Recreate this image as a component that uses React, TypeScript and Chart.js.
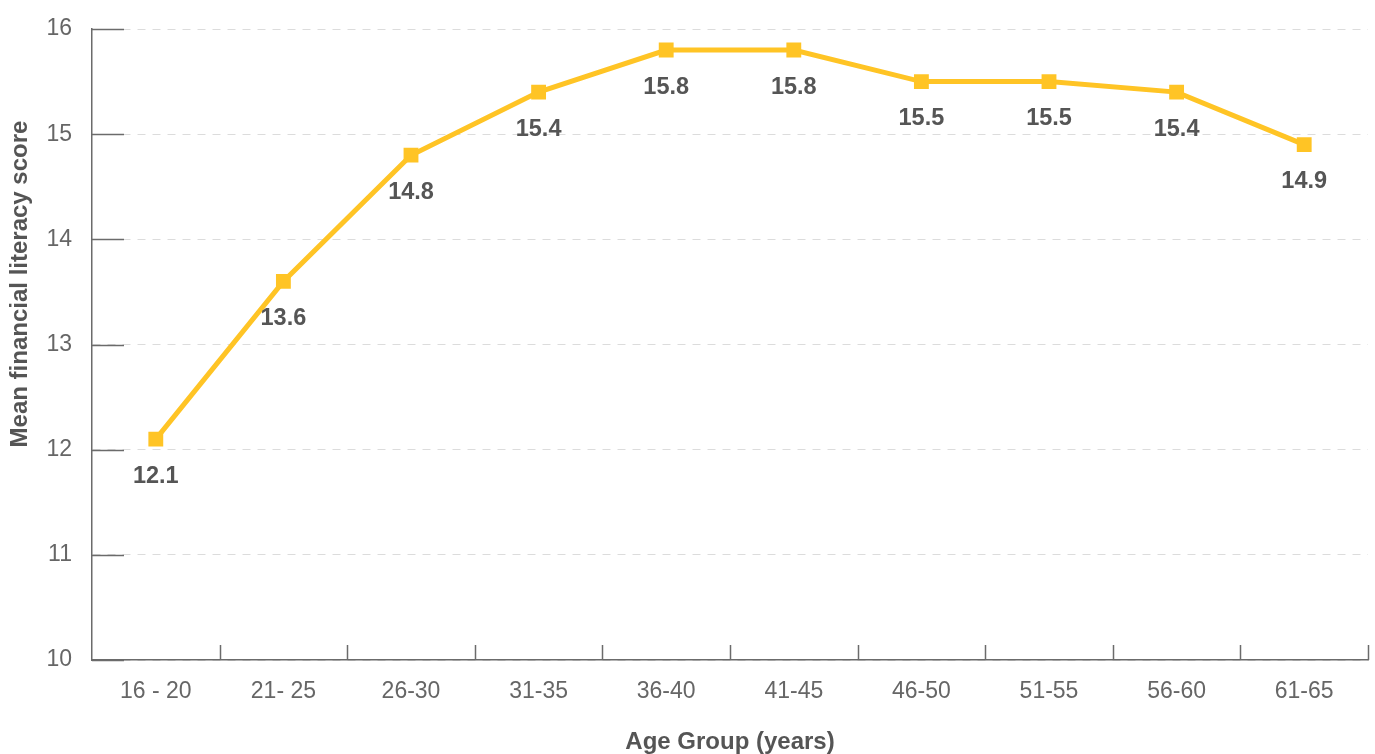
import React, { useEffect, useRef } from "react";
import { Chart, registerables } from "chart.js";

Chart.register(...registerables);

const categories = ["16 - 20", "21- 25", "26-30", "31-35", "36-40", "41-45", "46-50", "51-55", "56-60", "61-65"];
const scores = [12.1, 13.6, 14.8, 15.4, 15.8, 15.8, 15.5, 15.5, 15.4, 14.9];
const yTicks = [10, 11, 12, 13, 14, 15, 16];
const xTitle = "Age Group (years)";
const yTitle = "Mean financial literacy score";

const LINE_COLOR = "#FFC425";
const AXIS_COLOR = "#6b6b6b";
const TEXT_COLOR = "#555555";
const TICK_COLOR = "#666666";
const FONT = "'Liberation Sans', Arial, Helvetica, sans-serif";

const decorPlugin = {
  id: "decor",
  afterDatasetsDraw(chart: any) {
    const { ctx, chartArea, scales } = chart;
    const x = scales.x;
    const y = scales.y;
    ctx.save();
    ctx.strokeStyle = AXIS_COLOR;
    ctx.lineWidth = 1.5;
    ctx.setLineDash([]);
    yTicks.forEach((v) => {
      const py = Math.round(y.getPixelForValue(v)) + 0.5;
      ctx.beginPath();
      ctx.moveTo(chartArea.left, py);
      ctx.lineTo(chartArea.left + 32, py);
      ctx.stroke();
    });
    for (let i = 1; i <= categories.length; i++) {
      const px = Math.round(x.getPixelForValue(i - 0.5)) + 0.5;
      ctx.beginPath();
      ctx.moveTo(px, chartArea.bottom);
      ctx.lineTo(px, chartArea.bottom - 15);
      ctx.stroke();
    }
    const meta = chart.getDatasetMeta(0);
    ctx.fillStyle = TEXT_COLOR;
    ctx.font = `bold 23.5px ${FONT}`;
    ctx.textAlign = "center";
    ctx.textBaseline = "middle";
    meta.data.forEach((pt: any, i: number) => {
      ctx.fillText(scores[i].toFixed(1), pt.x, pt.y + 37);
    });
    ctx.font = `bold 24px ${FONT}`;
    ctx.fillText(xTitle, (chartArea.left + chartArea.right) / 2, 742);
    ctx.save();
    ctx.translate(20, 284);
    ctx.rotate(-Math.PI / 2);
    ctx.fillText(yTitle, 0, 0);
    ctx.restore();
    ctx.restore();
  },
};

export default function App() {
  const ref = useRef<HTMLCanvasElement>(null);
  useEffect(() => {
    document.body.style.margin = "0";
    const chart = new Chart(ref.current!, {
      type: "line",
      data: {
        labels: categories,
        datasets: [
          {
            data: scores,
            borderColor: LINE_COLOR,
            backgroundColor: LINE_COLOR,
            borderWidth: 5,
            pointStyle: "rect",
            pointRadius: 10.5,
            pointHoverRadius: 10.5,
            pointBorderWidth: 0,
            tension: 0,
          },
        ],
      },
      options: {
        responsive: false,
        animation: false,
        layout: { autoPadding: false, padding: { top: 29, right: 7, left: 0, bottom: 0 } },
        plugins: { legend: { display: false }, tooltip: { enabled: false }, title: { display: false } },
        scales: {
          x: {
            type: "category",
            offset: true,
            grid: { display: false, drawTicks: false, offset: true },
            border: { display: true, color: AXIS_COLOR, width: 1.5 },
            ticks: { color: TICK_COLOR, font: { family: FONT, size: 23 }, padding: 18, maxRotation: 0 },
            afterFit: (s: any) => {
              s.height = 94;
              s.paddingLeft = 0;
              s.paddingRight = 0;
            },
          },
          y: {
            min: 10,
            max: 16,
            afterBuildTicks: (s: any) => {
              s.ticks = yTicks.map((v) => ({ value: v }));
            },
            grid: {
              color: "#dcdcdc",
              lineWidth: 1,
              drawTicks: false,
            },
            border: { display: true, color: AXIS_COLOR, width: 1.5, dash: [8, 7] },
            ticks: { color: TICK_COLOR, font: { family: FONT, size: 23 }, padding: 20 },
            afterFit: (s: any) => {
              s.width = 92;
              s.paddingTop = 0;
              s.paddingBottom = 0;
            },
          },
        },
      },
      plugins: [decorPlugin],
    } as any);
    return () => chart.destroy();
  }, []);
  return (
    <div style={{ position: "absolute", left: 0, top: 0, width: 1375, height: 754 }}>
      <canvas ref={ref} width={1375} height={754} style={{ width: 1375, height: 754 }} />
    </div>
  );
}
